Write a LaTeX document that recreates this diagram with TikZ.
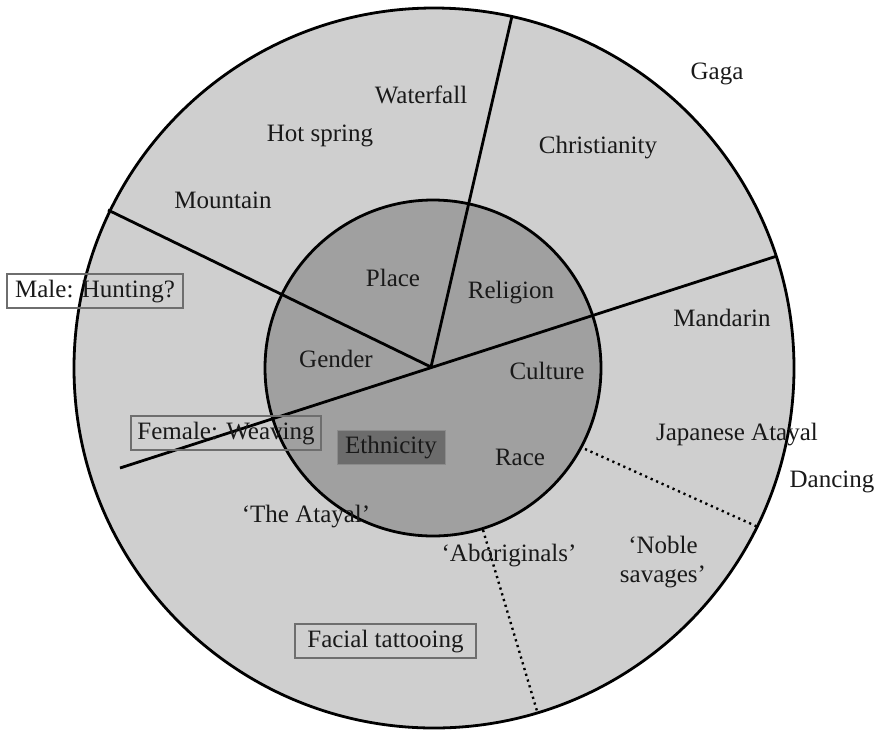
\documentclass[tikz,border=0pt]{standalone}
\usepackage{fontspec}
\setmainfont{Liberation Serif}
\definecolor{ringgray}{HTML}{CFCFCF}
\definecolor{innergray}{HTML}{A0A0A0}
\definecolor{ethgray}{HTML}{6C6C6C}
\definecolor{boxborder}{HTML}{6E6E6E}
\begin{document}
\begin{tikzpicture}[x=1pt,y=-1pt,
  lbl/.style={font=\fontsize{25}{29}\selectfont, inner sep=0pt, anchor=base, text=black!90},
  tagbox/.style={lbl, draw=boxborder, line width=2.6pt, text height=23pt, text depth=11pt, inner ysep=0pt},
  divline/.style={line width=2.8pt, black},
  dotline/.style={line width=2.4pt, black, dash pattern=on 2.2pt off 3.8pt},
  ring/.style={circle, inner sep=0pt, line width=2.8pt, draw=black}]
\useasboundingbox (0,0) rectangle (878,732);
% circles
\node[ring, fill=ringgray, minimum size=720pt] (outer) at (434,368) {};
\node[ring, fill=innergray, minimum size=336pt] (inner) at (433,368) {};
% ethnicity box
\node[tagbox, fill=ethgray, draw=boxborder!80, line width=1pt, minimum width=108pt] (eth) at (391,453) {Ethnicity};
% division lines
\coordinate (c) at (431,367);
\coordinate (ptop) at (512,16);
\coordinate (pul) at (108,210);
\coordinate (pleft) at (120,468);
\coordinate (pright) at (777,256);
\draw[divline] (c) -- (ptop);
\draw[divline] (c) -- (pul);
\draw[divline] (pleft) -- (pright);
% dotted lines
\coordinate (d1a) at (585,449);
\coordinate (d1b) at (758,527);
\coordinate (d2a) at (483,530);
\coordinate (d2b) at (537,711);
\draw[dotline] (d1a) -- (d1b);
\draw[dotline] (d2a) -- (d2b);
% boxed labels
\node[tagbox, minimum width=176pt] (male) at (95,297) {Male: Hunting?};
\node[tagbox, minimum width=190pt] (female) at (226,439) {Female: Weaving};
\node[tagbox, minimum width=181pt] (facial) at (385.5,647) {Facial tattooing};
% outer ring labels
\node[lbl] (waterfall) at (421,103) {Waterfall};
\node[lbl] (gaga) at (717,79) {Gaga};
\node[lbl] (hotspring) at (320,141) {Hot spring};
\node[lbl] (christ) at (598,153) {Christianity};
\node[lbl] (mountain) at (223,208) {Mountain};
\node[lbl] (mandarin) at (722,326) {Mandarin};
\node[lbl] (japanese) at (737,440) {Japanese Atayal};
\node[lbl] (dancing) at (832,487) {Dancing};
\node[lbl] (atayal) at (306,522) {‘The Atayal’};
\node[lbl] (aborig) at (509,561) {‘Aboriginals’};
\node[lbl, anchor=center, align=center] (noble) at (663,562) {‘Noble\\savages’};
% inner circle labels
\node[lbl] (place) at (393,286) {Place};
\node[lbl] (religion) at (511,298) {Religion};
\node[lbl] (gender) at (336,367) {Gender};
\node[lbl] (culture) at (547,379) {Culture};
\node[lbl] (race) at (520,465) {Race};
\end{tikzpicture}
\end{document}
